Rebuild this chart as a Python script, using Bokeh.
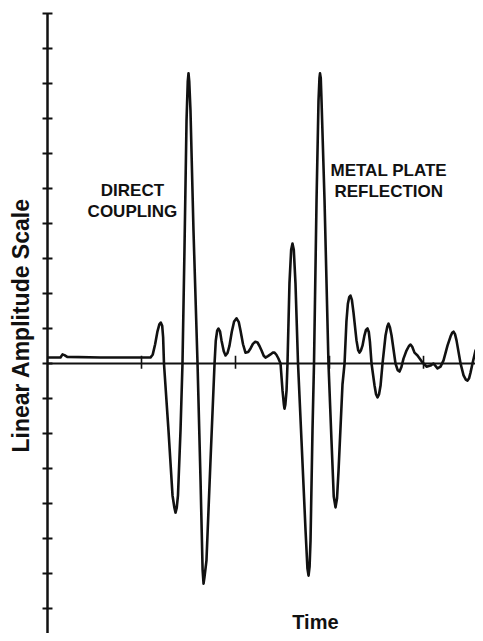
from bokeh.plotting import figure
from bokeh.models import Range1d, Label, ColumnDataSource
from bokeh.embed import file_html
from bokeh.resources import INLINE
import math

# Time (arbitrary units, small time ticks every 10) and linear amplitude (one tick per unit)
time = [0.0, 0.85, 1.38, 1.60, 1.80, 2.10, 5.64, 9.89, 10.96, 11.20, 11.45, 11.70, 11.90,
        12.05, 12.20, 12.30, 12.39,
        12.87, 13.30, 13.50, 13.62, 13.75, 13.88, 14.15, 14.36, 14.57, 14.79, 14.92, 15.00,
        15.08, 15.21, 15.53, 15.96,
        16.28, 16.50, 16.60, 16.70, 16.91, 17.34, 17.77, 17.90, 18.05, 18.19, 18.35, 18.51,
        18.75, 18.94, 19.15, 19.36, 19.60, 19.85, 20.11, 20.35,
        20.53, 20.80, 21.06, 21.35, 21.60, 21.85, 22.10, 22.34, 22.55, 22.77, 23.00, 23.19,
        23.45, 23.72, 23.95, 24.15, 24.35, 24.55, 24.79, 25.00,
        25.15, 25.21, 25.30, 25.43, 25.53, 25.74, 25.92, 26.06, 26.20, 26.38, 26.65, 27.02,
        27.45, 27.65, 27.77, 27.88, 27.98, 28.19,
        28.35, 28.62, 28.83, 28.93, 28.99, 29.07, 29.15, 29.47, 29.89, 30.21, 30.45, 30.64,
        30.80, 30.96, 31.38, 31.60,
        31.80, 31.95, 32.10, 32.23, 32.38, 32.55, 32.87, 33.05, 33.19, 33.35, 33.51, 33.70,
        33.88, 34.04, 34.18, 34.30, 34.47, 34.79, 34.95, 35.11,
        35.27, 35.43, 35.64, 35.96, 36.15, 36.28, 36.42, 36.60, 37.02, 37.25, 37.45, 37.65,
        37.87, 38.19, 38.45, 38.62, 38.80, 39.04, 39.36,
        39.89, 40.32, 40.74, 41.06, 41.49, 41.81, 42.13, 42.55, 42.87, 43.05, 43.19, 43.35,
        43.51, 43.94, 44.26, 44.50, 44.68, 44.85, 45.00, 45.21, 45.53, 45.85, 46.10, 46.28,
        46.38]
amplitude = [0.17, 0.17, 0.17, 0.26, 0.24, 0.19, 0.17, 0.17, 0.17, 0.26, 0.55, 0.92, 1.12,
             1.17, 1.08, 0.75, 0.0,
             -1.91, -3.77, -4.12, -4.26, -4.12, -3.77, -1.91, 0.0, 3.23, 6.94, 8.05, 8.29,
             8.05, 7.23, 3.80, 0.0,
             -3.34, -5.90, -6.29, -6.10, -5.63, -2.77, 0.0, 0.65, 0.94, 1.00, 0.92, 0.66,
             0.35, 0.23, 0.30, 0.51, 0.90, 1.20, 1.29, 1.18,
             0.94, 0.55, 0.31, 0.33, 0.43, 0.56, 0.62, 0.60, 0.50, 0.37, 0.22, 0.17,
             0.21, 0.26, 0.31, 0.31, 0.25, 0.15, 0.0, -0.77,
             -1.18, -1.29, -1.18, -0.77, 0.0, 2.29, 3.25, 3.43, 3.25, 2.29, 0.0, -2.20,
             -4.77, -5.85, -6.06, -5.80, -5.06, -1.91,
             0.0, 4.66, 7.51, 8.15, 8.29, 8.15, 7.51, 4.66, 0.0, -2.20, -3.80, -4.11,
             -3.85, -3.06, -0.6, 0.0,
             1.20, 1.70, 1.90, 1.94, 1.82, 1.46, 0.66, 0.38, 0.31, 0.38, 0.51, 0.78,
             0.96, 1.00, 0.90, 0.62, 0.0, -0.63, -0.88, -0.97,
             -0.88, -0.63, 0.0, 0.80, 1.06, 1.14, 1.04, 0.80, 0.0, -0.19, -0.23, -0.10,
             0.14, 0.37, 0.50, 0.54, 0.48, 0.31, 0.23,
             0.03, -0.09, -0.06, 0.0, -0.14, -0.09, 0.09, 0.51, 0.77, 0.88, 0.91, 0.84,
             0.66, 0.0, -0.34, -0.46, -0.49, -0.42, -0.26, 0.0, 0.37, 0.51, 0.58, 0.60,
             0.57]

amp_ticks = [-7, -6, -5, -4, -3, -2, -1, 0, 1, 2, 3, 4, 5, 6, 7, 8, 9, 10]
time_ticks = [10, 20, 30, 40]

FONT = "Liberation Sans"
INK = "#111111"

p = figure(width=475, height=633, x_range=Range1d(-5.0, 45.53),
           y_range=Range1d(-7.714, 10.371), output_backend="svg",
           toolbar_location=None, x_axis_location=None, y_axis_location=None,
           min_border=0, min_border_left=0, min_border_right=0,
           min_border_top=0, min_border_bottom=0)
p.grid.visible = False
p.outline_line_color = None
p.background_fill_color = "white"
p.border_fill_color = "white"

# vertical amplitude axis
p.segment(x0=[0], y0=[amp_ticks[-1]], x1=[0], y1=[-8.2], line_color=INK, line_width=2.5)
p.segment(x0=[-0.53] * len(amp_ticks), y0=amp_ticks, x1=[0.53] * len(amp_ticks), y1=amp_ticks,
          line_color=INK, line_width=2)

# zero (time) line with small ticks
p.segment(x0=[0], y0=[0], x1=[47], y1=[0], line_color=INK, line_width=2.2)
p.segment(x0=time_ticks, y0=[0.22] * len(time_ticks), x1=time_ticks, y1=[-0.15] * len(time_ticks),
          line_color=INK, line_width=1.6)

src = ColumnDataSource(dict(t=time, a=amplitude))
p.line("t", "a", source=src, line_color=INK, line_width=2.6, line_join="round")

def lab(x, y, text, size, style="bold", angle=0.0):
    p.add_layout(Label(x=x, y=y, text=text, text_font=FONT, text_font_size=size,
                       text_font_style=style, text_color=INK, text_align="center",
                       text_baseline="alphabetic", angle=angle))

lab(9.04, 4.93, "DIRECT", "17px")
lab(9.04, 4.33, "COUPLING", "17px")
lab(36.3, 5.50, "METAL PLATE", "17px")
lab(36.3, 4.90, "REFLECTION", "17px")
lab(28.5, -7.38, "Time", "20px")
lab(-2.85, 1.09, "Linear Amplitude Scale", "23px", style="bold", angle=math.pi / 2)

open("out.html", "w").write(file_html(p, INLINE))
